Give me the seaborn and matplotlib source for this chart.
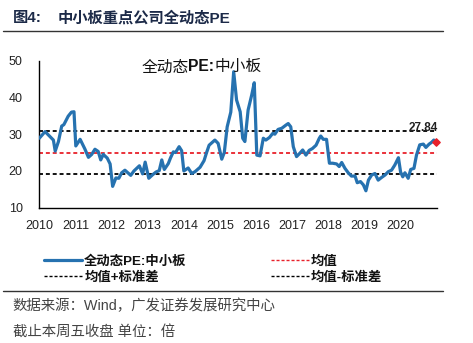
import matplotlib
matplotlib.use("Agg")
import matplotlib.pyplot as plt
from matplotlib.lines import Line2D
import seaborn as sns
import pandas as pd

# ---- data ----
years = [2010.00, 2010.16, 2010.25, 2010.39, 2010.44, 2010.53, 2010.62, 2010.68, 2010.80, 2010.89,
         2010.96, 2011.01, 2011.13, 2011.26, 2011.36, 2011.45, 2011.54, 2011.63, 2011.70, 2011.77,
         2011.88, 2011.96, 2012.03, 2012.12, 2012.20, 2012.28, 2012.37, 2012.44, 2012.53, 2012.62,
         2012.77, 2012.86, 2012.93, 2013.03, 2013.14, 2013.23, 2013.32, 2013.39, 2013.46, 2013.57,
         2013.63, 2013.71, 2013.77, 2013.87, 2013.94, 2014.00, 2014.12, 2014.22, 2014.31, 2014.45,
         2014.56, 2014.63, 2014.70, 2014.86, 2014.95, 2015.05, 2015.12, 2015.20, 2015.30, 2015.38,
         2015.46, 2015.56, 2015.63, 2015.69, 2015.78, 2015.88, 2015.95, 2016.02, 2016.11, 2016.20,
         2016.27, 2016.37, 2016.46, 2016.52, 2016.61, 2016.71, 2016.83, 2016.89, 2016.96, 2017.03,
         2017.12, 2017.21, 2017.29, 2017.38, 2017.47, 2017.56, 2017.66, 2017.75, 2017.79, 2017.86,
         2017.95, 2018.03, 2018.12, 2018.23, 2018.30, 2018.37, 2018.46, 2018.55, 2018.64, 2018.74,
         2018.80, 2018.89, 2018.97, 2019.04, 2019.11, 2019.20, 2019.29, 2019.38, 2019.47, 2019.57,
         2019.66, 2019.75, 2019.84, 2019.94, 2020.00, 2020.06, 2020.12, 2020.21, 2020.28, 2020.37,
         2020.44, 2020.53, 2020.63, 2020.70, 2020.79, 2020.86, 2020.92, 2020.98]
pe_values = [28.9, 30.7, 29.8, 28.4, 25.4, 28.0, 32.2, 32.6, 34.9, 36.0,
             36.1, 26.8, 28.6, 26.0, 23.7, 24.5, 25.9, 25.3, 23.0, 24.5,
             23.5, 21.9, 15.8, 18.1, 18.0, 19.5, 20.2, 19.6, 18.8, 20.0,
             21.4, 19.2, 22.4, 18.0, 19.0, 19.7, 20.1, 23.0, 20.4, 22.0,
             23.5, 25.2, 25.0, 26.6, 25.5, 20.0, 20.8, 19.3, 19.8, 21.0,
             22.8, 25.0, 27.0, 28.4, 27.5, 23.2, 25.0, 32.0, 36.0, 47.0,
             39.3, 36.1, 28.9, 28.0, 36.6, 40.7, 44.0, 24.3, 24.1, 28.9,
             28.4, 29.1, 30.2, 30.0, 31.3, 31.6, 32.5, 32.9, 32.0, 26.6,
             23.9, 24.8, 25.7, 24.3, 25.6, 26.1, 27.0, 28.9, 29.5, 28.6,
             28.6, 22.1, 22.1, 21.9, 21.2, 22.3, 20.7, 19.5, 18.6, 18.6,
             16.8, 17.1, 16.2, 14.6, 17.5, 18.9, 19.3, 17.5, 18.2, 18.9,
             19.8, 20.2, 21.6, 23.6, 19.7, 18.4, 19.5, 18.0, 20.4, 20.7,
             24.3, 27.1, 27.3, 26.4, 27.3, 27.8, 28.4, 27.84]
mean_val = 24.95
upper_val = 30.95
lower_val = 19.07
last_label = "27.84"
x_ticks = list(range(2010, 2022))
x_tick_labels = [str(y) for y in range(2010, 2021)] + [""]
y_ticks = [10, 20, 30, 40, 50]

series_name = "全动态PE:中小板"
mean_name = "均值"
upper_name = "均值+标准差"
lower_name = "均值-标准差"

df = pd.DataFrame({"year": years, "pe": pe_values})

# ---- style ----
sns.set_style("white")
plt.rcParams["font.family"] = ["Liberation Sans", "Noto Sans CJK SC", "DejaVu Sans"]

fig = plt.figure(figsize=(4.73, 3.43), dpi=100)
ax = fig.add_axes([0.0831, 0.3945, 0.8402, 0.4286])

blue = "#2672B0"
red = "#E8212A"
dash = (0, (2.2, 1.6))
sns.lineplot(data=df, x="year", y="pe", ax=ax, color=blue, linewidth=2.3, sort=False, zorder=3)
ax.axhline(mean_val, color=red, linestyle=dash, linewidth=1.3, zorder=2)
ax.axhline(upper_val, color="black", linestyle=dash, linewidth=1.3, zorder=2)
ax.axhline(lower_val, color="black", linestyle=dash, linewidth=1.3, zorder=2)
ax.scatter([years[-1]], [pe_values[-1]], color=red, s=14, marker="D", zorder=4, clip_on=False)
ax.text(years[-1] - 0.35, pe_values[-1] + 2.2, last_label, ha="center", va="bottom",
        fontsize=8.5, fontweight="bold", color="#222222")

# in-chart label, "PE:" in bold
t1 = ax.text(2012.82, 48.3, "全动态", ha="left", va="center", fontsize=11.3, color="#111111")
t2 = ax.annotate("PE:", xy=(1, 0), xycoords=t1, ha="left", va="bottom",
                 fontsize=11.3, fontweight="bold", color="#111111")
ax.annotate("中小板", xy=(1, 0), xycoords=t2, ha="left", va="bottom",
            fontsize=11.3, color="#111111")

ax.set_xlim(2010, 2021)
ax.set_ylim(10, 50)
ax.set_xticks(x_ticks)
ax.set_xticklabels(x_tick_labels)
ax.set_yticks(y_ticks)
ax.set_xlabel("")
ax.set_ylabel("")
for s in ["top", "right"]:
    ax.spines[s].set_visible(False)
for s in ["left", "bottom"]:
    ax.spines[s].set_color("black")
    ax.spines[s].set_linewidth(1.0)
ax.tick_params(axis="both", which="both", direction="out", length=4, width=1,
               color="black", labelsize=9, labelcolor="#222222")
ax.tick_params(axis="y", pad=8)
ax.tick_params(axis="x", pad=5)
ax.grid(False)

# ---- legend ----
ldash = (0, (2.2, 1.4))
handles = [
    Line2D([], [], color=blue, linewidth=2.3),
    Line2D([], [], color="black", linestyle=ldash, linewidth=1.0),
    Line2D([], [], color=red, linestyle=ldash, linewidth=1.0),
    Line2D([], [], color="black", linestyle=ldash, linewidth=1.0),
]
labels = [series_name, upper_name, mean_name, lower_name]
leg = fig.legend(handles, labels, ncol=2, loc="upper left", bbox_to_anchor=(0.068, 0.29),
                 frameon=False, handlelength=2.85, handletextpad=0.15, columnspacing=6.3,
                 labelspacing=0.25, prop={"size": 9.6, "weight": "bold"})
for t in leg.get_texts():
    t.set_color("#111111")

# ---- title and footer ----
title_color = "#1C2A48"
fig.text(0.027, 0.947, "图4:", ha="left", va="center", fontsize=11, fontweight="bold",
         color=title_color)
fig.text(0.122, 0.947, "中小板重点公司全动态PE", ha="left", va="center",
         fontsize=11, fontweight="bold", color=title_color)
fig.add_artist(Line2D([0.006, 0.937], [0.909, 0.909], transform=fig.transFigure,
                      color="#333333", linewidth=1.0))
fig.add_artist(Line2D([0.006, 0.937], [0.152, 0.152], transform=fig.transFigure,
                      color="#333333", linewidth=1.0))
fig.text(0.027, 0.108, "数据来源：Wind，广发证券发展研究中心", ha="left", va="center",
         fontsize=10.4, color="#444444")
fig.text(0.027, 0.030, "截止本周五收盘 单位：倍", ha="left", va="center",
         fontsize=10.4, color="#444444")

fig.savefig("out.png", dpi=100)
